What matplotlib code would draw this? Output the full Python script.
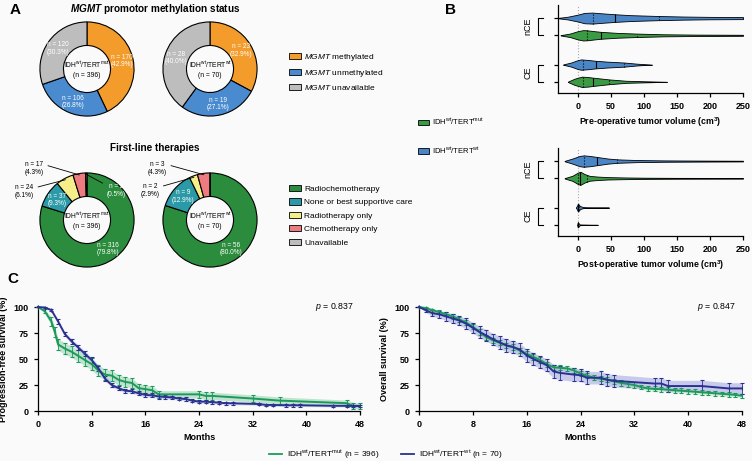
import numpy as np
import matplotlib
matplotlib.use("Agg")
import matplotlib.pyplot as plt
import matplotlib.transforms as mtrans
from matplotlib.patches import Patch
from matplotlib.lines import Line2D

plt.rcParams['font.family'] = ['Liberation Sans', 'DejaVu Sans']
plt.rcParams['mathtext.fontset'] = 'custom'
plt.rcParams['mathtext.rm'] = 'Liberation Sans'
plt.rcParams['mathtext.it'] = 'Liberation Sans:italic'
plt.rcParams['mathtext.bf'] = 'Liberation Sans:bold'
plt.rcParams['mathtext.bfit'] = 'Liberation Sans:italic:bold'

# ---------------- data ----------------
# panel A
mgmt_labels = ['methylated', 'unmethylated', 'unavailable']
mgmt_mut = [170, 106, 120]
mgmt_wt = [23, 19, 28]
therapy_labels = ['Radiochemotherapy', 'None or best supportive care',
                  'Radiotherapy only', 'Chemotherapy only', 'Unavailable']
therapy_mut = [316, 37, 24, 17, 2]
therapy_wt = [56, 9, 2, 3, 0]
n_mut, n_wt = 396, 70

# panel B: violin outlines (volume in cm3, half width) and quartiles
pre_nce_wt_x = [-30, -15, 0, 10, 22, 35, 57, 80, 123, 160, 200, 250]
pre_nce_wt_w = [0.01, 0.08, 0.2, 0.3, 0.32, 0.28, 0.22, 0.17, 0.12, 0.09, 0.07, 0.06]
pre_nce_wt_q = [23, 57, 123]
pre_nce_mut_x = [-26, -12, 0, 8, 14, 25, 35, 60, 89, 130, 180, 250]
pre_nce_mut_w = [0.01, 0.1, 0.24, 0.3, 0.29, 0.24, 0.2, 0.14, 0.1, 0.06, 0.04, 0.03]
pre_nce_mut_q = [14, 35, 89]
pre_ce_wt_x = [-22, -10, 0, 5, 15, 27, 45, 70, 90, 112]
pre_ce_wt_w = [0.01, 0.12, 0.26, 0.3, 0.27, 0.22, 0.17, 0.12, 0.05, 0.0]
pre_ce_wt_q = [8, 27, 70]
pre_ce_mut_x = [-15, -5, 6, 15, 23, 35, 47, 73, 103, 135]
pre_ce_mut_w = [0.01, 0.18, 0.3, 0.28, 0.24, 0.19, 0.14, 0.06, 0.03, 0.0]
pre_ce_mut_q = [8, 23, 47]

post_nce_wt_x = [-20, -8, 3, 9, 18, 29, 45, 60, 90, 130, 180, 250]
post_nce_wt_w = [0.01, 0.15, 0.3, 0.33, 0.3, 0.24, 0.15, 0.1, 0.06, 0.04, 0.03, 0.02]
post_nce_wt_q = [9, 29, 60]
post_nce_mut_x = [-20, -8, 0, 4, 10, 18, 30, 45, 70, 100, 150, 250]
post_nce_mut_w = [0.01, 0.15, 0.33, 0.38, 0.25, 0.14, 0.1, 0.07, 0.05, 0.035, 0.025, 0.02]
post_nce_mut_q = [0.5, 4, 14]
post_ce_wt_x = [-3, -1, 0, 1, 2, 4, 8, 20, 47]
post_ce_wt_w = [0.0, 0.12, 0.22, 0.2, 0.14, 0.08, 0.03, 0.01, 0.0]
post_ce_wt_q = [0, 0.5, 2]
post_ce_mut_x = [-1, 0, 1, 3, 30]
post_ce_mut_w = [0.0, 0.15, 0.1, 0.02, 0.0]
post_ce_mut_q = [0, 0, 1]

# panel C: Kaplan-Meier estimates (months, %, CI half width)
pfs_mut_m = [0, 1, 2, 2.5, 3, 4, 5, 6, 7, 8, 9, 10, 11, 12, 13, 14, 15, 16, 17, 18,
             24, 25, 26, 32, 36, 46, 47, 48]
pfs_mut_s = [100, 96, 86, 76, 64, 60, 57, 53, 49, 45, 39, 35, 34, 30, 28, 27, 22, 21, 20, 16,
             16, 14.5, 14.5, 12, 10, 7.5, 5, 5]
pfs_mut_ci = [0, 2, 4, 5, 5.5, 5.5, 5.5, 5.5, 5.5, 5.5, 5.5, 5, 5, 5, 4.5, 4.5, 4, 4, 4, 3.5,
              3.5, 3.5, 3.5, 3.5, 3.5, 3, 3, 3]
pfs_wt_m = [0, 1, 2, 3, 4, 5, 6, 7, 8, 9, 10, 11, 12, 13, 14, 15, 16, 17, 18, 19,
            20, 21, 22, 23, 24, 25, 26, 27, 28, 29, 33, 34, 35, 37, 38, 39, 44, 46, 47, 48]
pfs_wt_s = [100, 99.5, 97, 86, 74, 67, 61, 55, 49, 41, 31, 25, 22, 19.5, 19, 17, 15.5, 15, 14, 13.5,
            13, 12, 11.5, 10, 9, 9, 8.5, 8, 7.5, 7.4, 6.7, 5.8, 5.8, 5.5, 5.5, 5.5, 5, 5, 4.8, 4.8]
pfs_wt_ci = [0, 0.5, 1, 2, 2, 2.5, 2.5, 2.5, 2.5, 2.5, 2.5, 2, 2, 2, 2, 2, 2, 2, 2, 1.8,
             1.8, 1.8, 1.6, 1.6, 1.5, 1.5, 1.5, 1.4, 1.4, 1.4, 1.3, 1.2, 1.2, 1.2, 1.2, 1.2, 1.1, 1.1, 1.1, 1.1]
os_mut_m = list(range(49))
os_mut_s = [100, 99, 97, 95, 93, 91, 88, 85, 81, 76, 71, 68, 65.6, 63, 61.5, 58, 55, 52, 49, 45,
            42, 41.5, 41, 39, 36, 34, 32, 31, 30, 28.5, 27, 26, 25, 23, 21.7, 21.3, 21, 20.5, 20, 19.5,
            19, 18.5, 18, 17.5, 17, 16.5, 16, 15.5, 14.6]
os_mut_ci = [0, 1, 1.5, 2, 2, 2.5, 2.5, 2.5, 2.5, 2.5, 2.5, 2.5, 2.5, 2.5, 2.5, 2.5, 2.5, 2.5, 2.5, 2.5,
             2.5, 2.5, 2.5, 2.5, 2.5, 2.5, 2.5, 2.5, 2.5, 2.5, 2.5, 2.5, 2.5, 2.3, 2.3, 2.3, 2.3, 2.3, 2.3, 2.2,
             2.2, 2.2, 2.2, 2.2, 2.2, 2.2, 2.2, 2.2, 2.2]
os_wt_m = [0, 1, 2, 3, 4, 5, 6, 7, 8, 9, 10, 11, 12, 13, 14, 15, 16, 17, 18, 19, 20, 21, 23, 24,
           25, 27, 28, 29, 35, 36, 37, 42, 46, 48]
os_wt_s = [100, 97, 94, 93, 91, 89, 87, 84, 80, 76, 72.6, 69, 66, 63, 61.5, 59, 53.5, 50, 47, 44,
           38, 36.6, 35, 34.4, 32, 32, 30, 29, 26.4, 26.4, 24, 24, 21.7, 21.7]
os_wt_ci = [0, 2, 3, 3.5, 4, 4.5, 4.5, 5, 5, 5.5, 5.5, 5.5, 6, 6, 6, 6, 6, 6, 6, 6,
            6.5, 6.5, 6.5, 6, 6, 6, 6, 6, 5.5, 5.5, 5.5, 5.5, 5.5, 5.5]

# ---------------- styling ----------------
BG = '#fafafa'
ORANGE, BLUE_A, GRAY = '#f39c2b', '#4a8bd0', '#bdbdbd'
GREEN_A, TEAL, YELLOW, PINK = '#2a8c3c', '#2b9aa6', '#f5ee8a', '#ee7b7f'
V_BLUE, V_GREEN = '#4a85c6', '#3b9a44'
KM_GREEN, KM_BLUE = '#1d9a5b', '#2b3190'

W, H = 752, 461
fig = plt.figure(figsize=(W / 100, H / 100), dpi=100, facecolor=BG)


def box(l, t, r, b):
    return [l / W, 1 - b / H, (r - l) / W, (b - t) / H]


MUT = r'IDH$^{\mathrm{wt}}$/TERT$^{\mathrm{mut}}$'
WT = r'IDH$^{\mathrm{wt}}$/TERT$^{\mathrm{wt}}$'


def donut(bx, counts, colors, group, n, outside):
    ax = fig.add_axes(bx)
    wedges, _ = ax.pie(counts, colors=colors, startangle=90, counterclock=False, radius=1,
                       wedgeprops=dict(width=0.5, edgecolor='black', linewidth=0.8))
    ax.set_xlim(-1.02, 1.02)
    ax.set_ylim(-1.02, 1.02)
    ax.text(0, 0.08, group, ha='center', va='center', fontsize=4.9)
    ax.text(0, -0.13, f'(n = {n})', ha='center', va='center', fontsize=4.9)
    for i, (w, c) in enumerate(zip(wedges, counts)):
        if c == 0:
            continue
        lab = f'n = {c}\n({100 * c / n:.1f}%)'
        ang = np.deg2rad((w.theta1 + w.theta2) / 2)
        if i in outside:
            pos, col, rel = outside[i]
            ax.annotate(lab, xy=(0.97 * np.cos(ang), 0.97 * np.sin(ang)), xytext=pos,
                        ha='center', va='center', fontsize=4.7, color=col,
                        annotation_clip=False,
                        arrowprops=dict(arrowstyle='-', lw=0.6, color='black',
                                        relpos=rel, shrinkA=1, shrinkB=0))
        else:
            ax.text(0.76 * np.cos(ang), 0.76 * np.sin(ang), lab, ha='center', va='center',
                    fontsize=4.7, color='white', linespacing=1.1)
    return ax


fig.text(15 / W, 1 - 10 / H, 'A', fontsize=11, fontweight='bold', ha='center', va='center')
fig.text(450 / W, 1 - 10 / H, 'B', fontsize=11, fontweight='bold', ha='center', va='center')
fig.text(13 / W, 1 - 279 / H, 'C', fontsize=11, fontweight='bold', ha='center', va='center')

fig.text(155 / W, 1 - 9 / H, r'$\mathbfit{MGMT}$ promotor methylation status', fontsize=7.2,
         fontweight='bold', ha='center', va='center')
fig.text(155 / W, 1 - 148 / H, 'First-line therapies', fontsize=7.2,
         fontweight='bold', ha='center', va='center')

mgmt_colors = [ORANGE, BLUE_A, GRAY]
ther_colors = [GREEN_A, TEAL, YELLOW, PINK, GRAY]
donut(box(39, 21, 135, 117), mgmt_mut, mgmt_colors, MUT, n_mut, {})
donut(box(162, 21, 258, 117), mgmt_wt, mgmt_colors, WT, n_wt, {})
donut(box(39, 172, 135, 268), therapy_mut, ther_colors, MUT, n_mut,
      {3: ((-1.12, 1.1), 'black', (1.0, 0.75)),
       2: ((-1.33, 0.6), 'black', (1.0, 0.75)),
       4: ((0.62, 0.62), 'white', (0.1, 0.8))})
donut(box(162, 172, 258, 268), therapy_wt, ther_colors, WT, n_wt,
      {3: ((-1.12, 1.1), 'black', (1.0, 0.75)),
       2: ((-1.28, 0.62), 'black', (1.0, 0.75))})

leg_kw = dict(frameon=False, fontsize=6, borderpad=0, borderaxespad=0, handlelength=1.45,
              handleheight=0.75, handletextpad=0.4, loc='upper left')
fig.legend([Patch(facecolor=c, edgecolor='black', lw=0.6) for c in mgmt_colors],
           [r'$\mathit{MGMT}$ ' + s for s in mgmt_labels],
           bbox_to_anchor=(289 / W, 1 - 52 / H), labelspacing=0.55, **leg_kw)
fig.legend([Patch(facecolor=c, edgecolor='black', lw=0.6) for c in ther_colors],
           therapy_labels, bbox_to_anchor=(289 / W, 1 - 185 / H), labelspacing=0.66, **leg_kw)
fig.legend([Patch(facecolor=V_GREEN, edgecolor='black', lw=0.6),
            Patch(facecolor=V_BLUE, edgecolor='black', lw=0.6)], [MUT, WT],
           bbox_to_anchor=(418 / W, 1 - 117 / H), labelspacing=2.4,
           **{**leg_kw, 'fontsize': 5.5})

# ---------------- panel B ----------------
ROWS = {'nce_wt': 3.7, 'nce_mut': 2.7, 'ce_wt': 1.0, 'ce_mut': 0.0}


def violin(ax, y, xs, ws, q, color):
    xs, ws = np.array(xs, float), np.array(ws, float)
    ax.hlines(y, xs[0], xs[-1], color='black', lw=0.7, zorder=2)
    ax.fill_between(xs, y - ws, y + ws, facecolor=color, edgecolor='black', lw=0.6, zorder=3)
    for v, ls in zip(q, [':', '-', ':']):
        hw = np.interp(v, xs, ws)
        ax.vlines(v, y - hw, y + hw, color='black', lw=0.8, linestyles=ls, zorder=4)


def bracket(ax, y0, y1, label):
    tr = mtrans.blended_transform_factory(ax.transAxes, ax.transData)
    xb, xa = -0.108, -0.081
    ax.plot([xa, xb, xb, xa], [y1, y1, y0, y0], transform=tr, color='black', lw=0.8,
            clip_on=False)
    ax.text(-0.162, (y0 + y1) / 2, label, rotation=90, transform=tr, ha='center',
            va='center', fontsize=6.5)


def violin_axes(bx, data, xlabel):
    ax = fig.add_axes(bx)
    ax.set_facecolor(BG)
    ax.axvline(0, color='#aaaaaa', ls=':', lw=0.8, zorder=1)
    for key, (xs, ws, q) in data.items():
        violin(ax, ROWS[key], xs, ws, q, V_BLUE if key.endswith('wt') else V_GREEN)
    ax.set_xlim(-30, 250)
    ax.set_ylim(-0.65, 4.46)
    ax.set_xticks([0, 50, 100, 150, 200, 250])
    ax.set_yticks(list(ROWS.values()))
    ax.set_yticklabels([])
    ax.tick_params(labelsize=6.5, width=0.9, length=3)
    for t in ax.get_xticklabels():
        t.set_fontweight('bold')
    for s in ['top', 'right']:
        ax.spines[s].set_visible(False)
    for s in ['left', 'bottom']:
        ax.spines[s].set_linewidth(0.9)
    ax.set_xlabel(xlabel, fontsize=6.3, fontweight='bold', labelpad=3)
    bracket(ax, ROWS['nce_mut'], ROWS['nce_wt'], 'nCE')
    bracket(ax, ROWS['ce_mut'], ROWS['ce_wt'], 'CE')
    return ax


violin_axes(box(558, 5, 743, 93),
            {'nce_wt': (pre_nce_wt_x, pre_nce_wt_w, pre_nce_wt_q),
             'nce_mut': (pre_nce_mut_x, pre_nce_mut_w, pre_nce_mut_q),
             'ce_wt': (pre_ce_wt_x, pre_ce_wt_w, pre_ce_wt_q),
             'ce_mut': (pre_ce_mut_x, pre_ce_mut_w, pre_ce_mut_q)},
            r'Pre-operative tumor volume (cm$^{\mathbf{3}}$)')
violin_axes(box(558, 148, 743, 236),
            {'nce_wt': (post_nce_wt_x, post_nce_wt_w, post_nce_wt_q),
             'nce_mut': (post_nce_mut_x, post_nce_mut_w, post_nce_mut_q),
             'ce_wt': (post_ce_wt_x, post_ce_wt_w, post_ce_wt_q),
             'ce_mut': (post_ce_mut_x, post_ce_mut_w, post_ce_mut_q)},
            r'Post-operative tumor volume (cm$^{\mathbf{3}}$)')

# ---------------- panel C ----------------


def km(ax, m, s, ci, color, band, alpha):
    m, s, ci = np.array(m, float), np.array(s, float), np.array(ci, float)
    ax.fill_between(m, s - ci, np.minimum(s + ci, 100), color=band, alpha=alpha, lw=0, zorder=2)
    ax.errorbar(m, s, yerr=ci, color=color, lw=1.4, elinewidth=0.6, capsize=1.5,
                capthick=0.6, marker='|', ms=3, mew=0.8, clip_on=False, zorder=3)


def km_axes(bx, ylabel, ptext):
    ax = fig.add_axes(bx)
    ax.set_facecolor(BG)
    ax.set_xlim(0, 48)
    ax.set_ylim(0, 100)
    ax.set_xticks(range(0, 49, 8))
    ax.set_yticks([0, 25, 50, 75, 100])
    ax.tick_params(labelsize=6.5, width=0.9, length=3)
    for t in ax.get_xticklabels() + ax.get_yticklabels():
        t.set_fontweight('bold')
    for s in ['top', 'right']:
        ax.spines[s].set_visible(False)
    for s in ['left', 'bottom']:
        ax.spines[s].set_linewidth(0.9)
    ax.set_xlabel('Months', fontsize=6.5, fontweight='bold', labelpad=3)
    ax.set_ylabel(ylabel, fontsize=6.5, fontweight='bold', labelpad=4)
    ax.text(0.98, 1.0, ptext, transform=ax.transAxes, ha='right', va='center', fontsize=6.3)
    return ax


ax_pfs = km_axes(box(38, 307, 360, 411), 'Progression-free survival (%)', r'$p$ = 0.837')
km(ax_pfs, pfs_mut_m, pfs_mut_s, pfs_mut_ci, KM_GREEN, '#8fd1ab', 0.55)
km(ax_pfs, pfs_wt_m, pfs_wt_s, pfs_wt_ci, KM_BLUE, '#9fa3e0', 0.35)

ax_os = km_axes(box(419, 307, 742, 411), 'Overall survival (%)', r'$p$ = 0.847')
km(ax_os, os_mut_m, os_mut_s, os_mut_ci, KM_GREEN, '#8fd1ab', 0.35)
km(ax_os, os_wt_m, os_wt_s, os_wt_ci, KM_BLUE, '#9fa3e0', 0.55)

fig.legend([Line2D([], [], color=KM_GREEN, lw=1.3), Line2D([], [], color=KM_BLUE, lw=1.3)],
           [MUT + f' (n = {n_mut})', WT + f' (n = {n_wt})'],
           loc='center', bbox_to_anchor=(386 / W, 1 - 455 / H), ncol=2, frameon=False,
           fontsize=6, handlelength=1.6, handletextpad=0.6, columnspacing=2.6)

fig.savefig('out.png', dpi=100, facecolor=BG)
